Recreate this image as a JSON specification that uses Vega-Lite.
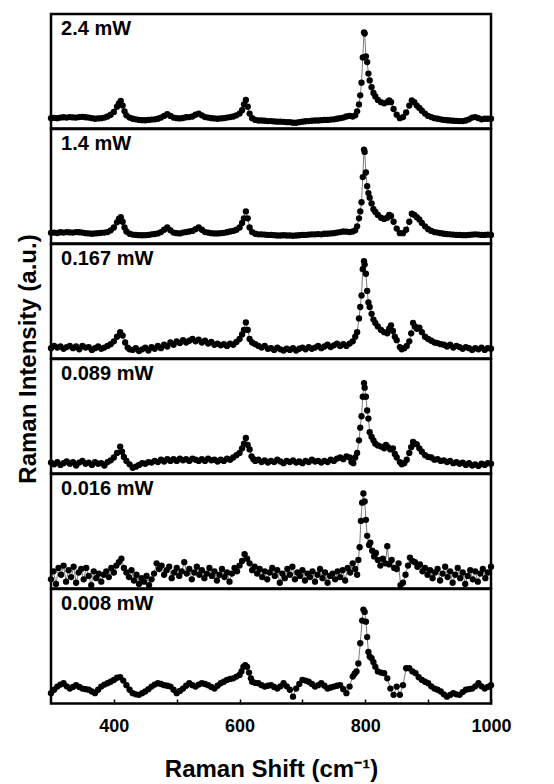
{
"$schema": "https://vega.github.io/schema/vega-lite/v6.json",
"padding": {"left": 16, "top": 12, "right": 5, "bottom": 5},
"background": "white",
"bounds": "flush",
"datasets": {"spectra": [
{"p":"2.4 mW","x":300,"y":9},{"p":"2.4 mW","x":305,"y":9.3},{"p":"2.4 mW","x":310,"y":9},{"p":"2.4 mW","x":315,"y":9.5},{"p":"2.4 mW","x":320,"y":9.8},{"p":"2.4 mW","x":325,"y":9.5},{"p":"2.4 mW","x":330,"y":10},{"p":"2.4 mW","x":335,"y":9.7},{"p":"2.4 mW","x":340,"y":9.5},{"p":"2.4 mW","x":345,"y":10},{"p":"2.4 mW","x":350,"y":10.2},{"p":"2.4 mW","x":355,"y":9.8},{"p":"2.4 mW","x":360,"y":9.5},{"p":"2.4 mW","x":365,"y":9},{"p":"2.4 mW","x":370,"y":8.5},{"p":"2.4 mW","x":375,"y":8.8},{"p":"2.4 mW","x":380,"y":9},{"p":"2.4 mW","x":385,"y":9.5},{"p":"2.4 mW","x":390,"y":10.5},{"p":"2.4 mW","x":395,"y":12},{"p":"2.4 mW","x":400,"y":14.5},{"p":"2.4 mW","x":405,"y":19},{"p":"2.4 mW","x":408,"y":22},{"p":"2.4 mW","x":411,"y":24},{"p":"2.4 mW","x":414,"y":20},{"p":"2.4 mW","x":417,"y":15},{"p":"2.4 mW","x":420,"y":11.5},{"p":"2.4 mW","x":425,"y":9.5},{"p":"2.4 mW","x":430,"y":8.5},{"p":"2.4 mW","x":435,"y":8},{"p":"2.4 mW","x":440,"y":7.5},{"p":"2.4 mW","x":445,"y":7.3},{"p":"2.4 mW","x":450,"y":7.2},{"p":"2.4 mW","x":455,"y":7.5},{"p":"2.4 mW","x":460,"y":7.8},{"p":"2.4 mW","x":465,"y":8},{"p":"2.4 mW","x":470,"y":8.5},{"p":"2.4 mW","x":475,"y":9.5},{"p":"2.4 mW","x":480,"y":11},{"p":"2.4 mW","x":485,"y":12.5},{"p":"2.4 mW","x":490,"y":11},{"p":"2.4 mW","x":495,"y":9.5},{"p":"2.4 mW","x":500,"y":9},{"p":"2.4 mW","x":505,"y":8.8},{"p":"2.4 mW","x":510,"y":9.2},{"p":"2.4 mW","x":515,"y":9.8},{"p":"2.4 mW","x":520,"y":10},{"p":"2.4 mW","x":525,"y":10.5},{"p":"2.4 mW","x":530,"y":12},{"p":"2.4 mW","x":535,"y":13},{"p":"2.4 mW","x":540,"y":11.5},{"p":"2.4 mW","x":545,"y":10},{"p":"2.4 mW","x":550,"y":9.5},{"p":"2.4 mW","x":555,"y":9},{"p":"2.4 mW","x":560,"y":8.8},{"p":"2.4 mW","x":565,"y":8.5},{"p":"2.4 mW","x":570,"y":8.8},{"p":"2.4 mW","x":575,"y":9},{"p":"2.4 mW","x":580,"y":9.5},{"p":"2.4 mW","x":585,"y":10},{"p":"2.4 mW","x":590,"y":10.5},{"p":"2.4 mW","x":595,"y":11.5},{"p":"2.4 mW","x":600,"y":13},{"p":"2.4 mW","x":604,"y":16},{"p":"2.4 mW","x":607,"y":21},{"p":"2.4 mW","x":610,"y":25},{"p":"2.4 mW","x":613,"y":19},{"p":"2.4 mW","x":616,"y":13},{"p":"2.4 mW","x":620,"y":9},{"p":"2.4 mW","x":625,"y":7.5},{"p":"2.4 mW","x":630,"y":7},{"p":"2.4 mW","x":635,"y":7},{"p":"2.4 mW","x":640,"y":6.8},{"p":"2.4 mW","x":645,"y":6.5},{"p":"2.4 mW","x":650,"y":6.5},{"p":"2.4 mW","x":655,"y":6.2},{"p":"2.4 mW","x":660,"y":6},{"p":"2.4 mW","x":665,"y":6},{"p":"2.4 mW","x":670,"y":5.8},{"p":"2.4 mW","x":675,"y":5.5},{"p":"2.4 mW","x":680,"y":5.5},{"p":"2.4 mW","x":685,"y":5},{"p":"2.4 mW","x":690,"y":5},{"p":"2.4 mW","x":695,"y":5.5},{"p":"2.4 mW","x":700,"y":6},{"p":"2.4 mW","x":705,"y":6.3},{"p":"2.4 mW","x":710,"y":6.5},{"p":"2.4 mW","x":715,"y":6.8},{"p":"2.4 mW","x":720,"y":7},{"p":"2.4 mW","x":725,"y":7},{"p":"2.4 mW","x":730,"y":7.3},{"p":"2.4 mW","x":735,"y":7.5},{"p":"2.4 mW","x":740,"y":7.5},{"p":"2.4 mW","x":745,"y":7.8},{"p":"2.4 mW","x":750,"y":8},{"p":"2.4 mW","x":755,"y":8.5},{"p":"2.4 mW","x":760,"y":9},{"p":"2.4 mW","x":765,"y":9.5},{"p":"2.4 mW","x":770,"y":10.5},{"p":"2.4 mW","x":775,"y":11},{"p":"2.4 mW","x":780,"y":10.5},{"p":"2.4 mW","x":784,"y":11.5},{"p":"2.4 mW","x":787,"y":15},{"p":"2.4 mW","x":790,"y":21},{"p":"2.4 mW","x":792,"y":29},{"p":"2.4 mW","x":794,"y":40},{"p":"2.4 mW","x":796,"y":62},{"p":"2.4 mW","x":798,"y":84},{"p":"2.4 mW","x":799,"y":83},{"p":"2.4 mW","x":801,"y":63},{"p":"2.4 mW","x":803,"y":58},{"p":"2.4 mW","x":805,"y":48},{"p":"2.4 mW","x":807,"y":42},{"p":"2.4 mW","x":810,"y":36},{"p":"2.4 mW","x":813,"y":31},{"p":"2.4 mW","x":816,"y":28},{"p":"2.4 mW","x":820,"y":25},{"p":"2.4 mW","x":825,"y":23},{"p":"2.4 mW","x":830,"y":22},{"p":"2.4 mW","x":835,"y":23},{"p":"2.4 mW","x":838,"y":24.5},{"p":"2.4 mW","x":841,"y":23},{"p":"2.4 mW","x":845,"y":17},{"p":"2.4 mW","x":850,"y":12},{"p":"2.4 mW","x":855,"y":9},{"p":"2.4 mW","x":860,"y":10},{"p":"2.4 mW","x":865,"y":14},{"p":"2.4 mW","x":870,"y":20},{"p":"2.4 mW","x":874,"y":24.5},{"p":"2.4 mW","x":878,"y":23},{"p":"2.4 mW","x":882,"y":20},{"p":"2.4 mW","x":886,"y":18},{"p":"2.4 mW","x":890,"y":15.5},{"p":"2.4 mW","x":895,"y":13},{"p":"2.4 mW","x":900,"y":11},{"p":"2.4 mW","x":905,"y":10},{"p":"2.4 mW","x":910,"y":9},{"p":"2.4 mW","x":915,"y":8.5},{"p":"2.4 mW","x":920,"y":8},{"p":"2.4 mW","x":925,"y":7.5},{"p":"2.4 mW","x":930,"y":7.2},{"p":"2.4 mW","x":935,"y":7},{"p":"2.4 mW","x":940,"y":6.8},{"p":"2.4 mW","x":945,"y":6.6},{"p":"2.4 mW","x":950,"y":6.5},{"p":"2.4 mW","x":955,"y":6.5},{"p":"2.4 mW","x":960,"y":7},{"p":"2.4 mW","x":965,"y":8},{"p":"2.4 mW","x":970,"y":9.5},{"p":"2.4 mW","x":975,"y":10},{"p":"2.4 mW","x":980,"y":9},{"p":"2.4 mW","x":985,"y":8},{"p":"2.4 mW","x":990,"y":8.5},{"p":"2.4 mW","x":995,"y":8.5},{"p":"2.4 mW","x":1000,"y":8.5},
{"p":"1.4 mW","x":300,"y":9.3},{"p":"1.4 mW","x":305,"y":9.5},{"p":"1.4 mW","x":310,"y":9.2},{"p":"1.4 mW","x":315,"y":9.8},{"p":"1.4 mW","x":320,"y":9.5},{"p":"1.4 mW","x":325,"y":10},{"p":"1.4 mW","x":330,"y":9.7},{"p":"1.4 mW","x":335,"y":9.5},{"p":"1.4 mW","x":340,"y":10},{"p":"1.4 mW","x":345,"y":9.8},{"p":"1.4 mW","x":350,"y":9.5},{"p":"1.4 mW","x":355,"y":9},{"p":"1.4 mW","x":360,"y":8.8},{"p":"1.4 mW","x":365,"y":8.5},{"p":"1.4 mW","x":370,"y":8.8},{"p":"1.4 mW","x":375,"y":9},{"p":"1.4 mW","x":380,"y":9.3},{"p":"1.4 mW","x":385,"y":9.5},{"p":"1.4 mW","x":390,"y":10},{"p":"1.4 mW","x":395,"y":11.5},{"p":"1.4 mW","x":400,"y":14},{"p":"1.4 mW","x":405,"y":18.5},{"p":"1.4 mW","x":408,"y":21.5},{"p":"1.4 mW","x":411,"y":23},{"p":"1.4 mW","x":414,"y":19},{"p":"1.4 mW","x":417,"y":14},{"p":"1.4 mW","x":420,"y":10.5},{"p":"1.4 mW","x":425,"y":8.5},{"p":"1.4 mW","x":430,"y":7.8},{"p":"1.4 mW","x":435,"y":7.5},{"p":"1.4 mW","x":440,"y":7.3},{"p":"1.4 mW","x":445,"y":7.2},{"p":"1.4 mW","x":450,"y":7.3},{"p":"1.4 mW","x":455,"y":7.5},{"p":"1.4 mW","x":460,"y":8},{"p":"1.4 mW","x":465,"y":8.3},{"p":"1.4 mW","x":470,"y":8.8},{"p":"1.4 mW","x":475,"y":10},{"p":"1.4 mW","x":480,"y":12},{"p":"1.4 mW","x":485,"y":14},{"p":"1.4 mW","x":490,"y":11.5},{"p":"1.4 mW","x":495,"y":9.5},{"p":"1.4 mW","x":500,"y":9},{"p":"1.4 mW","x":505,"y":8.8},{"p":"1.4 mW","x":510,"y":9.5},{"p":"1.4 mW","x":515,"y":10},{"p":"1.4 mW","x":520,"y":10.5},{"p":"1.4 mW","x":525,"y":11},{"p":"1.4 mW","x":530,"y":12.5},{"p":"1.4 mW","x":535,"y":14},{"p":"1.4 mW","x":540,"y":12},{"p":"1.4 mW","x":545,"y":10},{"p":"1.4 mW","x":550,"y":9.5},{"p":"1.4 mW","x":555,"y":9},{"p":"1.4 mW","x":560,"y":8.8},{"p":"1.4 mW","x":565,"y":8.8},{"p":"1.4 mW","x":570,"y":9},{"p":"1.4 mW","x":575,"y":9.3},{"p":"1.4 mW","x":580,"y":9.8},{"p":"1.4 mW","x":585,"y":10.5},{"p":"1.4 mW","x":590,"y":11},{"p":"1.4 mW","x":595,"y":12},{"p":"1.4 mW","x":600,"y":14},{"p":"1.4 mW","x":604,"y":18},{"p":"1.4 mW","x":607,"y":22},{"p":"1.4 mW","x":610,"y":28},{"p":"1.4 mW","x":613,"y":22},{"p":"1.4 mW","x":616,"y":14},{"p":"1.4 mW","x":620,"y":10},{"p":"1.4 mW","x":625,"y":8.5},{"p":"1.4 mW","x":630,"y":8},{"p":"1.4 mW","x":635,"y":8},{"p":"1.4 mW","x":640,"y":7.8},{"p":"1.4 mW","x":645,"y":7.5},{"p":"1.4 mW","x":650,"y":7.5},{"p":"1.4 mW","x":655,"y":7.3},{"p":"1.4 mW","x":660,"y":7},{"p":"1.4 mW","x":665,"y":7},{"p":"1.4 mW","x":670,"y":7.2},{"p":"1.4 mW","x":675,"y":7},{"p":"1.4 mW","x":680,"y":7},{"p":"1.4 mW","x":685,"y":6.8},{"p":"1.4 mW","x":690,"y":7},{"p":"1.4 mW","x":695,"y":7.2},{"p":"1.4 mW","x":700,"y":7.5},{"p":"1.4 mW","x":705,"y":7.5},{"p":"1.4 mW","x":710,"y":7.8},{"p":"1.4 mW","x":715,"y":8},{"p":"1.4 mW","x":720,"y":8},{"p":"1.4 mW","x":725,"y":8.2},{"p":"1.4 mW","x":730,"y":8},{"p":"1.4 mW","x":735,"y":8.5},{"p":"1.4 mW","x":740,"y":8.5},{"p":"1.4 mW","x":745,"y":8.8},{"p":"1.4 mW","x":750,"y":9},{"p":"1.4 mW","x":755,"y":9.5},{"p":"1.4 mW","x":760,"y":10},{"p":"1.4 mW","x":765,"y":10.5},{"p":"1.4 mW","x":770,"y":10.3},{"p":"1.4 mW","x":775,"y":10},{"p":"1.4 mW","x":780,"y":10.5},{"p":"1.4 mW","x":784,"y":11.5},{"p":"1.4 mW","x":787,"y":15},{"p":"1.4 mW","x":790,"y":22},{"p":"1.4 mW","x":792,"y":28},{"p":"1.4 mW","x":794,"y":36},{"p":"1.4 mW","x":796,"y":58},{"p":"1.4 mW","x":798,"y":82},{"p":"1.4 mW","x":799,"y":80},{"p":"1.4 mW","x":801,"y":62},{"p":"1.4 mW","x":803,"y":50},{"p":"1.4 mW","x":805,"y":44},{"p":"1.4 mW","x":807,"y":40},{"p":"1.4 mW","x":810,"y":35},{"p":"1.4 mW","x":813,"y":30},{"p":"1.4 mW","x":816,"y":27.5},{"p":"1.4 mW","x":820,"y":25},{"p":"1.4 mW","x":825,"y":22.5},{"p":"1.4 mW","x":830,"y":21.5},{"p":"1.4 mW","x":835,"y":22.5},{"p":"1.4 mW","x":838,"y":25},{"p":"1.4 mW","x":841,"y":24},{"p":"1.4 mW","x":845,"y":19},{"p":"1.4 mW","x":850,"y":13},{"p":"1.4 mW","x":855,"y":9},{"p":"1.4 mW","x":860,"y":9},{"p":"1.4 mW","x":865,"y":12},{"p":"1.4 mW","x":870,"y":19},{"p":"1.4 mW","x":874,"y":26},{"p":"1.4 mW","x":878,"y":25},{"p":"1.4 mW","x":882,"y":23},{"p":"1.4 mW","x":886,"y":21},{"p":"1.4 mW","x":890,"y":18},{"p":"1.4 mW","x":895,"y":15},{"p":"1.4 mW","x":900,"y":12.5},{"p":"1.4 mW","x":905,"y":11},{"p":"1.4 mW","x":910,"y":10},{"p":"1.4 mW","x":915,"y":9.5},{"p":"1.4 mW","x":920,"y":9},{"p":"1.4 mW","x":925,"y":8.5},{"p":"1.4 mW","x":930,"y":8.2},{"p":"1.4 mW","x":935,"y":8},{"p":"1.4 mW","x":940,"y":7.8},{"p":"1.4 mW","x":945,"y":7.5},{"p":"1.4 mW","x":950,"y":7.5},{"p":"1.4 mW","x":955,"y":7.3},{"p":"1.4 mW","x":960,"y":7.3},{"p":"1.4 mW","x":965,"y":7.5},{"p":"1.4 mW","x":970,"y":7.8},{"p":"1.4 mW","x":975,"y":8},{"p":"1.4 mW","x":980,"y":7.8},{"p":"1.4 mW","x":985,"y":7.5},{"p":"1.4 mW","x":990,"y":7.5},{"p":"1.4 mW","x":995,"y":7.8},{"p":"1.4 mW","x":1000,"y":7.5},
{"p":"0.167 mW","x":300,"y":9},{"p":"0.167 mW","x":305,"y":11},{"p":"0.167 mW","x":310,"y":9.5},{"p":"0.167 mW","x":315,"y":10.5},{"p":"0.167 mW","x":320,"y":8.5},{"p":"0.167 mW","x":325,"y":10},{"p":"0.167 mW","x":330,"y":11},{"p":"0.167 mW","x":335,"y":9},{"p":"0.167 mW","x":340,"y":10.5},{"p":"0.167 mW","x":345,"y":8},{"p":"0.167 mW","x":350,"y":11},{"p":"0.167 mW","x":355,"y":9.5},{"p":"0.167 mW","x":360,"y":10},{"p":"0.167 mW","x":365,"y":7.5},{"p":"0.167 mW","x":370,"y":9},{"p":"0.167 mW","x":375,"y":10.5},{"p":"0.167 mW","x":380,"y":8.5},{"p":"0.167 mW","x":385,"y":9.5},{"p":"0.167 mW","x":390,"y":11},{"p":"0.167 mW","x":395,"y":12.5},{"p":"0.167 mW","x":400,"y":15},{"p":"0.167 mW","x":405,"y":19},{"p":"0.167 mW","x":410,"y":23},{"p":"0.167 mW","x":414,"y":20},{"p":"0.167 mW","x":418,"y":14},{"p":"0.167 mW","x":422,"y":9.5},{"p":"0.167 mW","x":425,"y":8},{"p":"0.167 mW","x":430,"y":7.5},{"p":"0.167 mW","x":435,"y":9},{"p":"0.167 mW","x":440,"y":6.5},{"p":"0.167 mW","x":445,"y":8},{"p":"0.167 mW","x":450,"y":9.5},{"p":"0.167 mW","x":455,"y":7},{"p":"0.167 mW","x":460,"y":10},{"p":"0.167 mW","x":465,"y":8.5},{"p":"0.167 mW","x":470,"y":11},{"p":"0.167 mW","x":475,"y":9},{"p":"0.167 mW","x":480,"y":12},{"p":"0.167 mW","x":485,"y":10.5},{"p":"0.167 mW","x":490,"y":14},{"p":"0.167 mW","x":495,"y":12},{"p":"0.167 mW","x":500,"y":15},{"p":"0.167 mW","x":505,"y":13.5},{"p":"0.167 mW","x":510,"y":16},{"p":"0.167 mW","x":515,"y":14},{"p":"0.167 mW","x":520,"y":15.5},{"p":"0.167 mW","x":525,"y":17},{"p":"0.167 mW","x":530,"y":15},{"p":"0.167 mW","x":535,"y":16.5},{"p":"0.167 mW","x":540,"y":14},{"p":"0.167 mW","x":545,"y":15.5},{"p":"0.167 mW","x":550,"y":13},{"p":"0.167 mW","x":555,"y":14.5},{"p":"0.167 mW","x":560,"y":12},{"p":"0.167 mW","x":565,"y":13},{"p":"0.167 mW","x":570,"y":11.5},{"p":"0.167 mW","x":575,"y":12.5},{"p":"0.167 mW","x":580,"y":11},{"p":"0.167 mW","x":585,"y":13},{"p":"0.167 mW","x":590,"y":12},{"p":"0.167 mW","x":595,"y":14.5},{"p":"0.167 mW","x":600,"y":17},{"p":"0.167 mW","x":604,"y":21},{"p":"0.167 mW","x":607,"y":25},{"p":"0.167 mW","x":610,"y":31.5},{"p":"0.167 mW","x":613,"y":25},{"p":"0.167 mW","x":616,"y":17},{"p":"0.167 mW","x":620,"y":14},{"p":"0.167 mW","x":625,"y":12.5},{"p":"0.167 mW","x":630,"y":11},{"p":"0.167 mW","x":635,"y":9.5},{"p":"0.167 mW","x":640,"y":11},{"p":"0.167 mW","x":645,"y":8.5},{"p":"0.167 mW","x":650,"y":9},{"p":"0.167 mW","x":655,"y":7.5},{"p":"0.167 mW","x":660,"y":9.5},{"p":"0.167 mW","x":665,"y":8},{"p":"0.167 mW","x":670,"y":7},{"p":"0.167 mW","x":675,"y":8.5},{"p":"0.167 mW","x":680,"y":7.5},{"p":"0.167 mW","x":685,"y":9},{"p":"0.167 mW","x":690,"y":7},{"p":"0.167 mW","x":695,"y":8.5},{"p":"0.167 mW","x":700,"y":9.5},{"p":"0.167 mW","x":705,"y":8},{"p":"0.167 mW","x":710,"y":10},{"p":"0.167 mW","x":715,"y":8.5},{"p":"0.167 mW","x":720,"y":9.5},{"p":"0.167 mW","x":725,"y":11},{"p":"0.167 mW","x":730,"y":9},{"p":"0.167 mW","x":735,"y":10.5},{"p":"0.167 mW","x":740,"y":12},{"p":"0.167 mW","x":745,"y":10},{"p":"0.167 mW","x":750,"y":11.5},{"p":"0.167 mW","x":755,"y":13},{"p":"0.167 mW","x":760,"y":11},{"p":"0.167 mW","x":765,"y":12.5},{"p":"0.167 mW","x":770,"y":11},{"p":"0.167 mW","x":775,"y":13},{"p":"0.167 mW","x":780,"y":15},{"p":"0.167 mW","x":784,"y":19},{"p":"0.167 mW","x":787,"y":23},{"p":"0.167 mW","x":790,"y":35},{"p":"0.167 mW","x":792,"y":45},{"p":"0.167 mW","x":794,"y":55},{"p":"0.167 mW","x":796,"y":78},{"p":"0.167 mW","x":798,"y":85},{"p":"0.167 mW","x":799,"y":82},{"p":"0.167 mW","x":801,"y":74},{"p":"0.167 mW","x":803,"y":59},{"p":"0.167 mW","x":805,"y":49},{"p":"0.167 mW","x":807,"y":45},{"p":"0.167 mW","x":810,"y":39},{"p":"0.167 mW","x":813,"y":34},{"p":"0.167 mW","x":816,"y":31},{"p":"0.167 mW","x":820,"y":28},{"p":"0.167 mW","x":825,"y":25},{"p":"0.167 mW","x":830,"y":23},{"p":"0.167 mW","x":835,"y":22},{"p":"0.167 mW","x":838,"y":26},{"p":"0.167 mW","x":841,"y":29},{"p":"0.167 mW","x":844,"y":24},{"p":"0.167 mW","x":847,"y":19},{"p":"0.167 mW","x":850,"y":16},{"p":"0.167 mW","x":855,"y":10},{"p":"0.167 mW","x":858,"y":8},{"p":"0.167 mW","x":862,"y":9},{"p":"0.167 mW","x":866,"y":11},{"p":"0.167 mW","x":870,"y":15},{"p":"0.167 mW","x":873,"y":22},{"p":"0.167 mW","x":876,"y":31},{"p":"0.167 mW","x":879,"y":28},{"p":"0.167 mW","x":882,"y":26},{"p":"0.167 mW","x":886,"y":27},{"p":"0.167 mW","x":890,"y":23},{"p":"0.167 mW","x":895,"y":19},{"p":"0.167 mW","x":900,"y":17},{"p":"0.167 mW","x":905,"y":15.5},{"p":"0.167 mW","x":910,"y":14},{"p":"0.167 mW","x":915,"y":13.5},{"p":"0.167 mW","x":920,"y":12.5},{"p":"0.167 mW","x":925,"y":12},{"p":"0.167 mW","x":930,"y":10.5},{"p":"0.167 mW","x":935,"y":12},{"p":"0.167 mW","x":940,"y":9.5},{"p":"0.167 mW","x":945,"y":11},{"p":"0.167 mW","x":950,"y":10},{"p":"0.167 mW","x":955,"y":8.5},{"p":"0.167 mW","x":960,"y":10},{"p":"0.167 mW","x":965,"y":9},{"p":"0.167 mW","x":970,"y":7.5},{"p":"0.167 mW","x":975,"y":9},{"p":"0.167 mW","x":980,"y":8},{"p":"0.167 mW","x":985,"y":9.5},{"p":"0.167 mW","x":990,"y":7.5},{"p":"0.167 mW","x":995,"y":9},{"p":"0.167 mW","x":1000,"y":8.5},
{"p":"0.089 mW","x":300,"y":9.5},{"p":"0.089 mW","x":305,"y":8},{"p":"0.089 mW","x":310,"y":10},{"p":"0.089 mW","x":315,"y":7.5},{"p":"0.089 mW","x":320,"y":9},{"p":"0.089 mW","x":325,"y":10.5},{"p":"0.089 mW","x":330,"y":8.5},{"p":"0.089 mW","x":335,"y":10},{"p":"0.089 mW","x":340,"y":7},{"p":"0.089 mW","x":345,"y":9.5},{"p":"0.089 mW","x":350,"y":11},{"p":"0.089 mW","x":355,"y":8.5},{"p":"0.089 mW","x":360,"y":9.5},{"p":"0.089 mW","x":365,"y":7.5},{"p":"0.089 mW","x":370,"y":10},{"p":"0.089 mW","x":375,"y":8.5},{"p":"0.089 mW","x":380,"y":9},{"p":"0.089 mW","x":385,"y":7},{"p":"0.089 mW","x":390,"y":10},{"p":"0.089 mW","x":395,"y":11.5},{"p":"0.089 mW","x":400,"y":14},{"p":"0.089 mW","x":405,"y":18},{"p":"0.089 mW","x":410,"y":23.5},{"p":"0.089 mW","x":413,"y":19},{"p":"0.089 mW","x":416,"y":14.5},{"p":"0.089 mW","x":420,"y":11},{"p":"0.089 mW","x":425,"y":8},{"p":"0.089 mW","x":430,"y":5},{"p":"0.089 mW","x":435,"y":6},{"p":"0.089 mW","x":440,"y":7.5},{"p":"0.089 mW","x":445,"y":9},{"p":"0.089 mW","x":450,"y":8.5},{"p":"0.089 mW","x":455,"y":10},{"p":"0.089 mW","x":460,"y":9.5},{"p":"0.089 mW","x":465,"y":11},{"p":"0.089 mW","x":470,"y":10},{"p":"0.089 mW","x":475,"y":12},{"p":"0.089 mW","x":480,"y":10.5},{"p":"0.089 mW","x":485,"y":12.5},{"p":"0.089 mW","x":490,"y":11},{"p":"0.089 mW","x":495,"y":12.5},{"p":"0.089 mW","x":500,"y":11},{"p":"0.089 mW","x":505,"y":13},{"p":"0.089 mW","x":510,"y":11.5},{"p":"0.089 mW","x":515,"y":12.5},{"p":"0.089 mW","x":520,"y":11},{"p":"0.089 mW","x":525,"y":13},{"p":"0.089 mW","x":530,"y":12},{"p":"0.089 mW","x":535,"y":11},{"p":"0.089 mW","x":540,"y":12.5},{"p":"0.089 mW","x":545,"y":11},{"p":"0.089 mW","x":550,"y":13},{"p":"0.089 mW","x":555,"y":11.5},{"p":"0.089 mW","x":560,"y":12},{"p":"0.089 mW","x":565,"y":10.5},{"p":"0.089 mW","x":570,"y":12},{"p":"0.089 mW","x":575,"y":11},{"p":"0.089 mW","x":580,"y":13},{"p":"0.089 mW","x":585,"y":12},{"p":"0.089 mW","x":590,"y":14},{"p":"0.089 mW","x":595,"y":16},{"p":"0.089 mW","x":600,"y":18},{"p":"0.089 mW","x":604,"y":22},{"p":"0.089 mW","x":607,"y":26},{"p":"0.089 mW","x":610,"y":31},{"p":"0.089 mW","x":613,"y":25},{"p":"0.089 mW","x":616,"y":21},{"p":"0.089 mW","x":619,"y":15},{"p":"0.089 mW","x":622,"y":12.5},{"p":"0.089 mW","x":625,"y":11},{"p":"0.089 mW","x":630,"y":12},{"p":"0.089 mW","x":635,"y":10},{"p":"0.089 mW","x":640,"y":11.5},{"p":"0.089 mW","x":645,"y":9.5},{"p":"0.089 mW","x":650,"y":11},{"p":"0.089 mW","x":655,"y":10},{"p":"0.089 mW","x":660,"y":12},{"p":"0.089 mW","x":665,"y":10.5},{"p":"0.089 mW","x":670,"y":9},{"p":"0.089 mW","x":675,"y":11},{"p":"0.089 mW","x":680,"y":10},{"p":"0.089 mW","x":685,"y":11.5},{"p":"0.089 mW","x":690,"y":9.5},{"p":"0.089 mW","x":695,"y":10.5},{"p":"0.089 mW","x":700,"y":9},{"p":"0.089 mW","x":705,"y":11},{"p":"0.089 mW","x":710,"y":10},{"p":"0.089 mW","x":715,"y":12},{"p":"0.089 mW","x":720,"y":10.5},{"p":"0.089 mW","x":725,"y":11},{"p":"0.089 mW","x":730,"y":9.5},{"p":"0.089 mW","x":735,"y":11},{"p":"0.089 mW","x":740,"y":10},{"p":"0.089 mW","x":745,"y":12},{"p":"0.089 mW","x":750,"y":11},{"p":"0.089 mW","x":755,"y":13},{"p":"0.089 mW","x":760,"y":14},{"p":"0.089 mW","x":765,"y":12.5},{"p":"0.089 mW","x":770,"y":15},{"p":"0.089 mW","x":775,"y":14},{"p":"0.089 mW","x":778,"y":10},{"p":"0.089 mW","x":781,"y":9},{"p":"0.089 mW","x":784,"y":14},{"p":"0.089 mW","x":787,"y":18},{"p":"0.089 mW","x":790,"y":29},{"p":"0.089 mW","x":792,"y":40},{"p":"0.089 mW","x":794,"y":50},{"p":"0.089 mW","x":796,"y":67},{"p":"0.089 mW","x":798,"y":79},{"p":"0.089 mW","x":799,"y":75},{"p":"0.089 mW","x":801,"y":67},{"p":"0.089 mW","x":803,"y":55},{"p":"0.089 mW","x":805,"y":48},{"p":"0.089 mW","x":807,"y":36},{"p":"0.089 mW","x":810,"y":32},{"p":"0.089 mW","x":813,"y":29},{"p":"0.089 mW","x":816,"y":26},{"p":"0.089 mW","x":820,"y":24.5},{"p":"0.089 mW","x":825,"y":23.5},{"p":"0.089 mW","x":830,"y":22},{"p":"0.089 mW","x":833,"y":25},{"p":"0.089 mW","x":836,"y":23},{"p":"0.089 mW","x":840,"y":21},{"p":"0.089 mW","x":844,"y":22},{"p":"0.089 mW","x":847,"y":17},{"p":"0.089 mW","x":850,"y":14},{"p":"0.089 mW","x":855,"y":10},{"p":"0.089 mW","x":858,"y":8},{"p":"0.089 mW","x":862,"y":9},{"p":"0.089 mW","x":866,"y":12},{"p":"0.089 mW","x":870,"y":18},{"p":"0.089 mW","x":873,"y":23},{"p":"0.089 mW","x":876,"y":27.5},{"p":"0.089 mW","x":879,"y":26},{"p":"0.089 mW","x":882,"y":25.5},{"p":"0.089 mW","x":886,"y":22},{"p":"0.089 mW","x":890,"y":19},{"p":"0.089 mW","x":895,"y":16},{"p":"0.089 mW","x":900,"y":14.5},{"p":"0.089 mW","x":905,"y":14},{"p":"0.089 mW","x":910,"y":12},{"p":"0.089 mW","x":915,"y":12.5},{"p":"0.089 mW","x":920,"y":11},{"p":"0.089 mW","x":925,"y":11.5},{"p":"0.089 mW","x":930,"y":10},{"p":"0.089 mW","x":935,"y":11},{"p":"0.089 mW","x":940,"y":9},{"p":"0.089 mW","x":945,"y":10},{"p":"0.089 mW","x":950,"y":8.5},{"p":"0.089 mW","x":955,"y":9.5},{"p":"0.089 mW","x":960,"y":7.5},{"p":"0.089 mW","x":965,"y":9},{"p":"0.089 mW","x":970,"y":7},{"p":"0.089 mW","x":975,"y":8},{"p":"0.089 mW","x":980,"y":6.5},{"p":"0.089 mW","x":985,"y":8.5},{"p":"0.089 mW","x":990,"y":7.5},{"p":"0.089 mW","x":995,"y":9},{"p":"0.089 mW","x":1000,"y":8.5},
{"p":"0.016 mW","x":300,"y":8},{"p":"0.016 mW","x":304,"y":15},{"p":"0.016 mW","x":308,"y":4},{"p":"0.016 mW","x":312,"y":18},{"p":"0.016 mW","x":316,"y":12},{"p":"0.016 mW","x":320,"y":20},{"p":"0.016 mW","x":324,"y":6},{"p":"0.016 mW","x":328,"y":16},{"p":"0.016 mW","x":332,"y":10},{"p":"0.016 mW","x":336,"y":19},{"p":"0.016 mW","x":340,"y":5},{"p":"0.016 mW","x":344,"y":14},{"p":"0.016 mW","x":348,"y":17},{"p":"0.016 mW","x":352,"y":8},{"p":"0.016 mW","x":356,"y":18},{"p":"0.016 mW","x":360,"y":11},{"p":"0.016 mW","x":364,"y":3},{"p":"0.016 mW","x":368,"y":15},{"p":"0.016 mW","x":372,"y":9},{"p":"0.016 mW","x":376,"y":13},{"p":"0.016 mW","x":380,"y":6},{"p":"0.016 mW","x":384,"y":12},{"p":"0.016 mW","x":388,"y":15},{"p":"0.016 mW","x":392,"y":10},{"p":"0.016 mW","x":396,"y":18},{"p":"0.016 mW","x":400,"y":14},{"p":"0.016 mW","x":404,"y":20},{"p":"0.016 mW","x":408,"y":23},{"p":"0.016 mW","x":412,"y":26},{"p":"0.016 mW","x":416,"y":18},{"p":"0.016 mW","x":420,"y":14},{"p":"0.016 mW","x":424,"y":10},{"p":"0.016 mW","x":428,"y":16},{"p":"0.016 mW","x":432,"y":7},{"p":"0.016 mW","x":436,"y":12},{"p":"0.016 mW","x":440,"y":4},{"p":"0.016 mW","x":444,"y":9},{"p":"0.016 mW","x":448,"y":6},{"p":"0.016 mW","x":452,"y":11},{"p":"0.016 mW","x":456,"y":3},{"p":"0.016 mW","x":460,"y":8},{"p":"0.016 mW","x":464,"y":13},{"p":"0.016 mW","x":468,"y":22},{"p":"0.016 mW","x":472,"y":17},{"p":"0.016 mW","x":476,"y":20},{"p":"0.016 mW","x":480,"y":12},{"p":"0.016 mW","x":484,"y":16},{"p":"0.016 mW","x":488,"y":19},{"p":"0.016 mW","x":492,"y":9},{"p":"0.016 mW","x":496,"y":14},{"p":"0.016 mW","x":500,"y":18},{"p":"0.016 mW","x":504,"y":11},{"p":"0.016 mW","x":508,"y":15},{"p":"0.016 mW","x":512,"y":23},{"p":"0.016 mW","x":516,"y":13},{"p":"0.016 mW","x":520,"y":17},{"p":"0.016 mW","x":524,"y":8},{"p":"0.016 mW","x":528,"y":14},{"p":"0.016 mW","x":532,"y":19},{"p":"0.016 mW","x":536,"y":12},{"p":"0.016 mW","x":540,"y":16},{"p":"0.016 mW","x":544,"y":9},{"p":"0.016 mW","x":548,"y":13},{"p":"0.016 mW","x":552,"y":18},{"p":"0.016 mW","x":556,"y":11},{"p":"0.016 mW","x":560,"y":15},{"p":"0.016 mW","x":564,"y":7},{"p":"0.016 mW","x":568,"y":12},{"p":"0.016 mW","x":572,"y":17},{"p":"0.016 mW","x":576,"y":10},{"p":"0.016 mW","x":580,"y":14},{"p":"0.016 mW","x":584,"y":6},{"p":"0.016 mW","x":588,"y":13},{"p":"0.016 mW","x":592,"y":18},{"p":"0.016 mW","x":596,"y":15},{"p":"0.016 mW","x":600,"y":20},{"p":"0.016 mW","x":604,"y":24},{"p":"0.016 mW","x":608,"y":30},{"p":"0.016 mW","x":612,"y":26},{"p":"0.016 mW","x":616,"y":22},{"p":"0.016 mW","x":620,"y":16},{"p":"0.016 mW","x":624,"y":19},{"p":"0.016 mW","x":628,"y":13},{"p":"0.016 mW","x":632,"y":17},{"p":"0.016 mW","x":636,"y":10},{"p":"0.016 mW","x":640,"y":15},{"p":"0.016 mW","x":644,"y":8},{"p":"0.016 mW","x":648,"y":14},{"p":"0.016 mW","x":652,"y":18},{"p":"0.016 mW","x":656,"y":11},{"p":"0.016 mW","x":660,"y":16},{"p":"0.016 mW","x":664,"y":5},{"p":"0.016 mW","x":668,"y":13},{"p":"0.016 mW","x":672,"y":9},{"p":"0.016 mW","x":676,"y":17},{"p":"0.016 mW","x":680,"y":12},{"p":"0.016 mW","x":684,"y":19},{"p":"0.016 mW","x":688,"y":8},{"p":"0.016 mW","x":692,"y":14},{"p":"0.016 mW","x":696,"y":11},{"p":"0.016 mW","x":700,"y":16},{"p":"0.016 mW","x":704,"y":7},{"p":"0.016 mW","x":708,"y":13},{"p":"0.016 mW","x":712,"y":10},{"p":"0.016 mW","x":716,"y":15},{"p":"0.016 mW","x":720,"y":6},{"p":"0.016 mW","x":724,"y":12},{"p":"0.016 mW","x":728,"y":17},{"p":"0.016 mW","x":732,"y":9},{"p":"0.016 mW","x":736,"y":14},{"p":"0.016 mW","x":740,"y":5},{"p":"0.016 mW","x":744,"y":11},{"p":"0.016 mW","x":748,"y":13},{"p":"0.016 mW","x":752,"y":8},{"p":"0.016 mW","x":756,"y":15},{"p":"0.016 mW","x":760,"y":10},{"p":"0.016 mW","x":764,"y":16},{"p":"0.016 mW","x":768,"y":7},{"p":"0.016 mW","x":772,"y":18},{"p":"0.016 mW","x":776,"y":14},{"p":"0.016 mW","x":780,"y":22},{"p":"0.016 mW","x":784,"y":17},{"p":"0.016 mW","x":787,"y":12},{"p":"0.016 mW","x":789,"y":25},{"p":"0.016 mW","x":791,"y":36},{"p":"0.016 mW","x":793,"y":59},{"p":"0.016 mW","x":795,"y":75},{"p":"0.016 mW","x":797,"y":83},{"p":"0.016 mW","x":799,"y":76},{"p":"0.016 mW","x":801,"y":60},{"p":"0.016 mW","x":803,"y":46},{"p":"0.016 mW","x":806,"y":38},{"p":"0.016 mW","x":808,"y":40},{"p":"0.016 mW","x":811,"y":33},{"p":"0.016 mW","x":814,"y":28},{"p":"0.016 mW","x":817,"y":31},{"p":"0.016 mW","x":820,"y":25},{"p":"0.016 mW","x":824,"y":20},{"p":"0.016 mW","x":828,"y":26},{"p":"0.016 mW","x":832,"y":22},{"p":"0.016 mW","x":835,"y":37},{"p":"0.016 mW","x":838,"y":21},{"p":"0.016 mW","x":842,"y":25},{"p":"0.016 mW","x":846,"y":18},{"p":"0.016 mW","x":850,"y":17},{"p":"0.016 mW","x":853,"y":22},{"p":"0.016 mW","x":856,"y":3},{"p":"0.016 mW","x":860,"y":5},{"p":"0.016 mW","x":864,"y":12},{"p":"0.016 mW","x":868,"y":20},{"p":"0.016 mW","x":871,"y":27},{"p":"0.016 mW","x":875,"y":24},{"p":"0.016 mW","x":879,"y":23},{"p":"0.016 mW","x":883,"y":19},{"p":"0.016 mW","x":887,"y":21},{"p":"0.016 mW","x":891,"y":15},{"p":"0.016 mW","x":895,"y":18},{"p":"0.016 mW","x":899,"y":12},{"p":"0.016 mW","x":903,"y":16},{"p":"0.016 mW","x":907,"y":9},{"p":"0.016 mW","x":911,"y":14},{"p":"0.016 mW","x":915,"y":17},{"p":"0.016 mW","x":919,"y":7},{"p":"0.016 mW","x":923,"y":13},{"p":"0.016 mW","x":927,"y":19},{"p":"0.016 mW","x":931,"y":10},{"p":"0.016 mW","x":935,"y":15},{"p":"0.016 mW","x":939,"y":5},{"p":"0.016 mW","x":943,"y":12},{"p":"0.016 mW","x":947,"y":18},{"p":"0.016 mW","x":951,"y":9},{"p":"0.016 mW","x":955,"y":14},{"p":"0.016 mW","x":959,"y":4},{"p":"0.016 mW","x":963,"y":11},{"p":"0.016 mW","x":967,"y":16},{"p":"0.016 mW","x":971,"y":8},{"p":"0.016 mW","x":975,"y":15},{"p":"0.016 mW","x":979,"y":6},{"p":"0.016 mW","x":983,"y":13},{"p":"0.016 mW","x":987,"y":17},{"p":"0.016 mW","x":991,"y":9},{"p":"0.016 mW","x":995,"y":14},{"p":"0.016 mW","x":1000,"y":19},
{"p":"0.008 mW","x":300,"y":9},{"p":"0.008 mW","x":305,"y":12},{"p":"0.008 mW","x":310,"y":14.8},{"p":"0.008 mW","x":315,"y":16.5},{"p":"0.008 mW","x":320,"y":17.7},{"p":"0.008 mW","x":325,"y":15},{"p":"0.008 mW","x":330,"y":13},{"p":"0.008 mW","x":335,"y":14.5},{"p":"0.008 mW","x":340,"y":16},{"p":"0.008 mW","x":345,"y":14.5},{"p":"0.008 mW","x":350,"y":13},{"p":"0.008 mW","x":355,"y":12.5},{"p":"0.008 mW","x":360,"y":12},{"p":"0.008 mW","x":365,"y":10.5},{"p":"0.008 mW","x":370,"y":9},{"p":"0.008 mW","x":375,"y":12},{"p":"0.008 mW","x":380,"y":14.8},{"p":"0.008 mW","x":385,"y":16.5},{"p":"0.008 mW","x":390,"y":17.7},{"p":"0.008 mW","x":395,"y":19},{"p":"0.008 mW","x":400,"y":20.6},{"p":"0.008 mW","x":405,"y":22.5},{"p":"0.008 mW","x":410,"y":23},{"p":"0.008 mW","x":415,"y":20},{"p":"0.008 mW","x":420,"y":16},{"p":"0.008 mW","x":425,"y":12},{"p":"0.008 mW","x":430,"y":9},{"p":"0.008 mW","x":435,"y":8},{"p":"0.008 mW","x":440,"y":7.6},{"p":"0.008 mW","x":445,"y":9},{"p":"0.008 mW","x":450,"y":10.5},{"p":"0.008 mW","x":455,"y":12.5},{"p":"0.008 mW","x":460,"y":14.8},{"p":"0.008 mW","x":465,"y":16.5},{"p":"0.008 mW","x":470,"y":17.7},{"p":"0.008 mW","x":475,"y":17},{"p":"0.008 mW","x":480,"y":16},{"p":"0.008 mW","x":485,"y":15.5},{"p":"0.008 mW","x":490,"y":14.8},{"p":"0.008 mW","x":495,"y":12},{"p":"0.008 mW","x":500,"y":9},{"p":"0.008 mW","x":505,"y":11},{"p":"0.008 mW","x":510,"y":13},{"p":"0.008 mW","x":515,"y":15.5},{"p":"0.008 mW","x":520,"y":17.7},{"p":"0.008 mW","x":525,"y":16},{"p":"0.008 mW","x":530,"y":14.8},{"p":"0.008 mW","x":535,"y":16.5},{"p":"0.008 mW","x":540,"y":17.7},{"p":"0.008 mW","x":545,"y":17},{"p":"0.008 mW","x":550,"y":16},{"p":"0.008 mW","x":555,"y":14.5},{"p":"0.008 mW","x":560,"y":13},{"p":"0.008 mW","x":565,"y":15.5},{"p":"0.008 mW","x":570,"y":17.7},{"p":"0.008 mW","x":575,"y":19},{"p":"0.008 mW","x":580,"y":20.6},{"p":"0.008 mW","x":585,"y":21.5},{"p":"0.008 mW","x":590,"y":22},{"p":"0.008 mW","x":595,"y":23.5},{"p":"0.008 mW","x":600,"y":25},{"p":"0.008 mW","x":603,"y":28},{"p":"0.008 mW","x":606,"y":32},{"p":"0.008 mW","x":609,"y":33.5},{"p":"0.008 mW","x":612,"y":32},{"p":"0.008 mW","x":615,"y":27},{"p":"0.008 mW","x":618,"y":22},{"p":"0.008 mW","x":620,"y":19},{"p":"0.008 mW","x":625,"y":18},{"p":"0.008 mW","x":630,"y":17.7},{"p":"0.008 mW","x":635,"y":16},{"p":"0.008 mW","x":640,"y":14.8},{"p":"0.008 mW","x":645,"y":15.5},{"p":"0.008 mW","x":650,"y":16},{"p":"0.008 mW","x":655,"y":14.5},{"p":"0.008 mW","x":660,"y":13},{"p":"0.008 mW","x":665,"y":15},{"p":"0.008 mW","x":670,"y":17.7},{"p":"0.008 mW","x":675,"y":15},{"p":"0.008 mW","x":680,"y":12},{"p":"0.008 mW","x":685,"y":6},{"p":"0.008 mW","x":690,"y":13},{"p":"0.008 mW","x":695,"y":17},{"p":"0.008 mW","x":700,"y":20.6},{"p":"0.008 mW","x":705,"y":20},{"p":"0.008 mW","x":710,"y":19},{"p":"0.008 mW","x":715,"y":17},{"p":"0.008 mW","x":720,"y":14.8},{"p":"0.008 mW","x":725,"y":16},{"p":"0.008 mW","x":730,"y":17.7},{"p":"0.008 mW","x":735,"y":15.5},{"p":"0.008 mW","x":740,"y":13},{"p":"0.008 mW","x":745,"y":14},{"p":"0.008 mW","x":750,"y":14.8},{"p":"0.008 mW","x":755,"y":15.5},{"p":"0.008 mW","x":760,"y":16},{"p":"0.008 mW","x":765,"y":12.5},{"p":"0.008 mW","x":770,"y":9},{"p":"0.008 mW","x":775,"y":14.8},{"p":"0.008 mW","x":780,"y":23.5},{"p":"0.008 mW","x":783,"y":26},{"p":"0.008 mW","x":786,"y":28},{"p":"0.008 mW","x":789,"y":35},{"p":"0.008 mW","x":792,"y":52.6},{"p":"0.008 mW","x":795,"y":72.4},{"p":"0.008 mW","x":797,"y":82},{"p":"0.008 mW","x":799,"y":80},{"p":"0.008 mW","x":801,"y":71.5},{"p":"0.008 mW","x":803,"y":58},{"p":"0.008 mW","x":805,"y":45},{"p":"0.008 mW","x":807,"y":41},{"p":"0.008 mW","x":810,"y":39.5},{"p":"0.008 mW","x":813,"y":36},{"p":"0.008 mW","x":816,"y":32},{"p":"0.008 mW","x":820,"y":28},{"p":"0.008 mW","x":825,"y":27},{"p":"0.008 mW","x":830,"y":26.5},{"p":"0.008 mW","x":835,"y":22},{"p":"0.008 mW","x":840,"y":13},{"p":"0.008 mW","x":845,"y":7.6},{"p":"0.008 mW","x":850,"y":14.8},{"p":"0.008 mW","x":855,"y":7.6},{"p":"0.008 mW","x":860,"y":16},{"p":"0.008 mW","x":865,"y":30.8},{"p":"0.008 mW","x":870,"y":30.8},{"p":"0.008 mW","x":875,"y":28},{"p":"0.008 mW","x":880,"y":26.5},{"p":"0.008 mW","x":885,"y":23},{"p":"0.008 mW","x":890,"y":20.6},{"p":"0.008 mW","x":895,"y":19},{"p":"0.008 mW","x":900,"y":17.7},{"p":"0.008 mW","x":905,"y":15},{"p":"0.008 mW","x":910,"y":13},{"p":"0.008 mW","x":915,"y":12},{"p":"0.008 mW","x":920,"y":10.5},{"p":"0.008 mW","x":925,"y":8},{"p":"0.008 mW","x":930,"y":6},{"p":"0.008 mW","x":935,"y":7.5},{"p":"0.008 mW","x":940,"y":9},{"p":"0.008 mW","x":945,"y":8},{"p":"0.008 mW","x":950,"y":7.6},{"p":"0.008 mW","x":955,"y":10},{"p":"0.008 mW","x":960,"y":12},{"p":"0.008 mW","x":965,"y":12.5},{"p":"0.008 mW","x":970,"y":13},{"p":"0.008 mW","x":975,"y":15},{"p":"0.008 mW","x":980,"y":17.7},{"p":"0.008 mW","x":985,"y":15},{"p":"0.008 mW","x":990,"y":13},{"p":"0.008 mW","x":995,"y":14.5},{"p":"0.008 mW","x":1000,"y":16}
]},
"data": {"name": "spectra"},
"facet": {"row": {"field": "p", "type": "nominal", "sort": ["2.4 mW","1.4 mW","0.167 mW","0.089 mW","0.016 mW","0.008 mW"], "title": "Raman Intensity (a.u.)", "header": {"labels": false, "labelPadding": 0, "titleFont": "Liberation Sans", "titleFontSize": 24, "titleFontWeight": "bold", "titleColor": "black", "titlePadding": 0}}},
"spacing": 0,
"spec": {
  "width": 440,
  "height": 114.5,
  "layer": [
    {"mark": {"type": "line", "color": "#444444", "strokeWidth": 0.7},
     "encoding": {
       "x": {"field": "x", "type": "quantitative", "scale": {"domain": [300, 1000], "nice": false, "zero": false},
             "axis": {"title": "Raman Shift (cm⁻¹)", "values": [400, 500, 600, 700, 800, 900, 1000], "format": "d", "labelExpr": "datum.value % 200 == 0 ? datum.label : ''", "grid": false, "domain": false, "ticks": true, "offset": -5, "tickSize": 5, "tickWidth": 1.5, "tickColor": "black", "labelFont": "Liberation Sans", "labelFontSize": 18, "labelFontWeight": "bold", "labelColor": "black", "labelPadding": 13, "labelFlush": false, "labelOverlap": false, "titleFont": "Liberation Sans", "titleFontSize": 24, "titleFontWeight": "bold", "titleColor": "black", "titlePadding": 22}},
       "y": {"field": "y", "type": "quantitative", "scale": {"domain": [0, 100], "nice": false, "zero": false}, "axis": null}}},
    {"mark": {"type": "circle", "size": 40, "color": "black", "opacity": 1},
     "encoding": {"x": {"field": "x", "type": "quantitative"}, "y": {"field": "y", "type": "quantitative"}}},
    {"transform": [{"aggregate": [{"op": "count", "as": "n"}], "groupby": ["p"]}],
     "mark": {"type": "text", "align": "left", "baseline": "alphabetic", "font": "Liberation Sans", "fontWeight": "bold", "fontSize": 20, "color": "black"},
     "encoding": {"x": {"datum": 316}, "y": {"datum": 82}, "text": {"field": "p"}}}
  ]
},
"config": {
  "view": {"stroke": "black", "strokeWidth": 2.5}
}
}
